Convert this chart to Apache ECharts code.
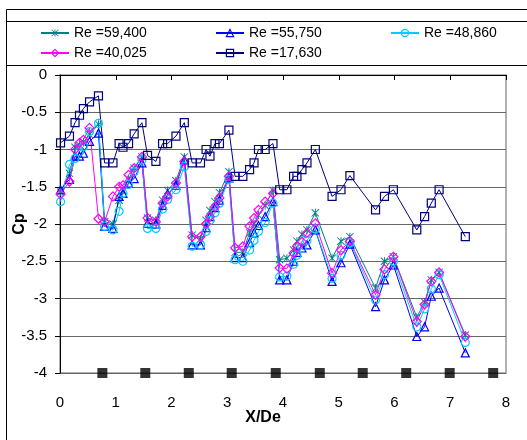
<!DOCTYPE html>
<html>
<head>
<meta charset="utf-8">
<script src="https://cdn.jsdelivr.net/npm/echarts@6/dist/echarts.min.js"></script>
<style>
  html, body {margin: 0; padding: 0; background: #fff;}
  #chart {width: 527px; height: 440px;}
</style>
</head>
<body>
<div id="chart"></div>
<script>
// pressure tap positions (X/De), shared by all five runs
var xDe = [0.01, 0.17, 0.27, 0.35, 0.42, 0.53, 0.69,
  0.80, 0.95, 1.06, 1.13, 1.23, 1.33, 1.47,
  1.57, 1.72, 1.84, 1.93, 2.08, 2.23,
  2.37, 2.52, 2.62, 2.69, 2.78, 2.86, 3.03,
  3.14, 3.28, 3.40, 3.48, 3.56, 3.68, 3.82,
  3.94, 4.07, 4.19, 4.25, 4.34, 4.43, 4.58,
  4.88, 5.04, 5.20, 5.66, 5.82, 5.98, 6.40, 6.54, 6.66, 6.80, 7.27]

var re59400 = [-1.57, -1.32, -0.97, -0.94, -0.90, -0.80, -0.66,
  -1.97, -2.00, -1.68, -1.55, -1.40, -1.25, -1.10,
  -1.92, -1.95, -1.68, -1.55, -1.42, -1.10,
  -2.15, -2.20, -1.95, -1.82, -1.70, -1.58, -1.30,
  -2.38, -2.38, -2.12, -2.00, -1.88, -1.75, -1.55,
  -2.48, -2.46, -2.35, -2.23, -2.14, -2.08, -1.85,
  -2.46, -2.23, -2.17, -2.86, -2.50, -2.44, -3.25, -3.05, -2.75, -2.65, -3.49]

var re55750 = [-1.54, -1.40, -1.09, -1.09, -1.05, -0.89, -0.78,
  -2.03, -2.06, -1.63, -1.59, -1.45, -1.39, -1.18,
  -1.99, -2.00, -1.75, -1.60, -1.48, -1.14,
  -2.28, -2.28, -2.05, -1.90, -1.78, -1.68, -1.38,
  -2.45, -2.45, -2.25, -2.12, -2.02, -1.90, -1.70,
  -2.75, -2.75, -2.50, -2.38, -2.32, -2.28, -2.08,
  -2.77, -2.52, -2.27, -3.11, -2.75, -2.55, -3.51, -3.38, -2.97, -2.86, -3.73]

var re48860 = [-1.70, -1.20, -1.12, -1.03, -0.96, -0.76, -0.65,
  -2.03, -2.08, -1.83, -1.59, -1.47, -1.30, -1.14,
  -2.06, -2.06, -1.80, -1.67, -1.54, -1.23,
  -2.30, -2.28, -2.10, -1.95, -1.85, -1.72, -1.40,
  -2.48, -2.50, -2.35, -2.22, -2.10, -1.98, -1.72,
  -2.71, -2.70, -2.54, -2.42, -2.32, -2.22, -2.07,
  -2.73, -2.42, -2.25, -3.02, -2.68, -2.50, -3.38, -3.14, -2.87, -2.68, -3.59]

var re40025 = [-1.60, -1.43, -1.00, -0.91, -0.87, -0.71, -1.93,
  -1.97, -1.63, -1.50, -1.48, -1.34, -1.25, -1.10,
  -1.92, -1.97, -1.72, -1.63, -1.45, -1.16,
  -2.17, -2.17, -2.00, -1.90, -1.77, -1.65, -1.36,
  -2.32, -2.30, -2.03, -1.92, -1.81, -1.70, -1.59,
  -2.59, -2.60, -2.39, -2.30, -2.24, -2.12, -1.99,
  -2.66, -2.35, -2.23, -2.95, -2.61, -2.44, -3.31, -3.08, -2.77, -2.65, -3.51]

var re17630 = [-0.91, -0.82, -0.64, -0.54, -0.45, -0.36, -0.28,
  -1.18, -1.18, -0.92, -0.97, -0.92, -0.79, -0.64,
  -1.08, -1.16, -0.92, -0.92, -0.82, -0.64,
  -1.18, -1.18, -1.00, -1.09, -0.92, -0.92, -0.74,
  -1.36, -1.36, -1.27, -1.18, -1.00, -1.00, -0.92,
  -1.54, -1.54, -1.36, -1.36, -1.27, -1.18, -1.00,
  -1.63, -1.54, -1.35, -1.81, -1.63, -1.54, -2.08, -1.90, -1.72, -1.54, -2.17]

// rib positions drawn along the bottom
var ribX = [0.76, 1.53, 2.31, 3.08, 3.87, 4.66, 5.43, 6.21, 6.99, 7.77]
var ribCp = [-4, -4, -4, -4, -4, -4, -4, -4, -4, -4]

var font = "'Liberation Sans', Arial, sans-serif"
var star = 'path://M4.4 0L5.6 0L5.6 10L4.4 10Z M0.8 0L10 9.2L9.2 10L0 0.8Z M9.2 0L10 0.8L0.8 10L0 9.2Z'
var clear = 'rgba(255,255,255,0)'

function pairs (ys) {
  return xDe.map(function (x, i) { return [x, ys[i]] })
}

function run (name, ys, color, symbol, size, filled) {
  return {
    name: name,
    type: 'line',
    data: pairs(ys),
    symbol: symbol,
    symbolSize: size,
    lineStyle: {color: color, width: 1},
    itemStyle: filled ? {color: color} : {color: clear, borderColor: color, borderWidth: 1.2},
    emphasis: {disabled: true},
    z: 3
  }
}

function legendAt (name, left, top, color, filled) {
  return {
    data: [name],
    left: left,
    top: top,
    padding: 0,
    itemWidth: 28,
    itemHeight: 9,
    itemGap: 5,
    selectedMode: false,
    itemStyle: filled ? {color: color} : {color: clear, borderColor: color, borderWidth: 1.2},
    textStyle: {color: '#000', fontSize: 14, fontFamily: font}
  }
}

var option = {
  backgroundColor: '#fff',
  animation: false,
  textStyle: {fontFamily: font},
  legend: [
    legendAt('Re =59,400', 40, 26, '#008080', true),
    legendAt('Re =55,750', 215, 26, '#0000FF', false),
    legendAt('Re =48,860', 390, 26, '#00CCFF', false),
    legendAt('Re =40,025', 40, 46, '#FF00FF', false),
    legendAt('Re =17,630', 215, 46, '#000080', false)
  ],
  graphic: [
    {type: 'line', shape: {x1: 6.5, y1: 9.5, x2: 527, y2: 9.5}, style: {stroke: '#000', lineWidth: 1}},
    {type: 'line', shape: {x1: 6.5, y1: 9.5, x2: 6.5, y2: 440}, style: {stroke: '#000', lineWidth: 1}},
    {type: 'line', shape: {x1: 6.5, y1: 21.5, x2: 527, y2: 21.5}, style: {stroke: '#000', lineWidth: 1}},
    {type: 'line', shape: {x1: 6.5, y1: 65.5, x2: 527, y2: 65.5}, style: {stroke: '#000', lineWidth: 1}}
  ],
  grid: {
    left: 60,
    right: 21,
    top: 75,
    bottom: 67,
    outerBoundsMode: 'none',
    containLabel: false,
    show: true,
    borderColor: '#999',
    borderWidth: 1.5
  },
  xAxis: [{
    type: 'value',
    min: 0,
    max: 8,
    interval: 1,
    position: 'bottom',
    axisLine: {show: false},
    axisTick: {show: false},
    splitLine: {show: false},
    axisLabel: {color: '#000', fontSize: 15, margin: 22, fontFamily: font},
    name: 'X/De',
    nameLocation: 'middle',
    nameGap: 37,
    nameMoveOverlap: false,
    nameTextStyle: {color: '#000', fontSize: 16, fontWeight: 'bold', fontFamily: font, padding: [0, 40, 0, 0]}
  }, {
    type: 'value',
    min: 0,
    max: 8,
    interval: 1,
    position: 'top',
    axisLine: {show: true, lineStyle: {color: '#000', width: 1}},
    axisTick: {show: true, inside: true, length: 5, lineStyle: {color: '#000'}},
    axisLabel: {show: false},
    splitLine: {show: false}
  }],
  yAxis: {
    type: 'value',
    min: -4,
    max: 0,
    interval: 0.5,
    axisLine: {show: true, lineStyle: {color: '#000', width: 1}},
    axisTick: {show: true, length: 5, lineStyle: {color: '#000'}},
    axisLabel: {color: '#000', fontSize: 15, margin: 13, fontFamily: font},
    splitLine: {show: true, lineStyle: {color: '#666', width: 1}},
    name: 'Cp',
    nameLocation: 'middle',
    nameGap: 32,
    nameMoveOverlap: false,
    nameRotate: 90,
    nameTextStyle: {color: '#000', fontSize: 16, fontWeight: 'bold', fontFamily: font}
  },
  series: [
    run('Re =59,400', re59400, '#008080', star, 8, true),
    run('Re =55,750', re55750, '#0000FF', 'triangle', 8, false),
    run('Re =48,860', re48860, '#00CCFF', 'circle', 8, false),
    run('Re =40,025', re40025, '#FF00FF', 'diamond', 9, false),
    run('Re =17,630', re17630, '#000080', 'rect', 8, false),
    {
      name: 'ribs',
      type: 'scatter',
      data: ribX.map(function (x, i) { return [x, ribCp[i]] }),
      symbol: 'rect',
      symbolSize: 10,
      itemStyle: {color: '#000'},
      clip: false,
      z: 4
    }
  ]
}

var chart = echarts.init(document.getElementById('chart'))
chart.setOption(option)
</script>
</body>
</html>
